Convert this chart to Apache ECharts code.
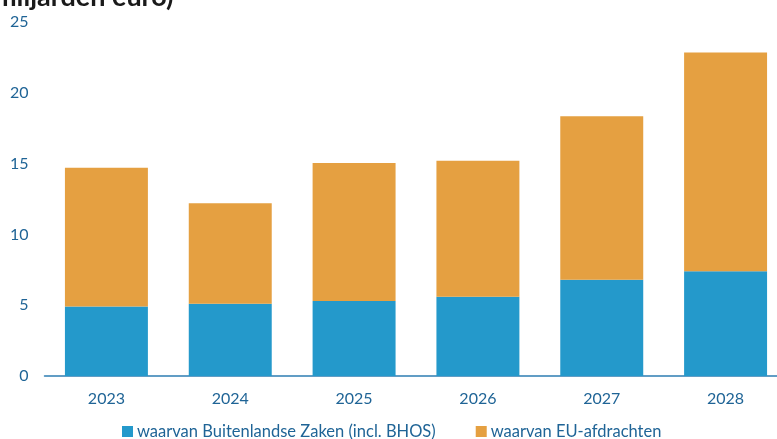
<!DOCTYPE html>
<html><head><meta charset="utf-8">
<script src="https://cdn.jsdelivr.net/npm/echarts@6/dist/echarts.min.js"></script>
<style>html,body{margin:0;padding:0;background:#fff}#c{width:777px;height:439px}</style>
</head><body><div id="c"></div>
<script>
const categories = ['2023','2024','2025','2026','2027','2028'];
const buza = [4.9, 5.1, 5.3, 5.6, 6.8, 7.4];
const eu = [9.8, 7.1, 9.75, 9.6, 11.55, 15.45];
const yTicks = [0, 5, 10, 15, 20, 25];
const seriesNames = ['waarvan Buitenlandse Zaken (incl. BHOS)', 'waarvan EU-afdrachten'];
const titleText = 'miljarden euro)';

const labelColor = '#1F6496';
const chart = echarts.init(document.getElementById('c'), null, {renderer: 'canvas'});
chart.setOption({
  animation: false,
  graphic: [{
    type: 'text', x: -6, y: -16,
    style: {text: titleText, font: 'bold 27px Lato', fill: '#1a1a1a'}
  }],
  grid: {left: 44.5, width: 743, top: 22, bottom: 63, outerBoundsMode: 'none', containLabel: false},
  legend: {
    bottom: -6, left: 117,
    itemWidth: 11, itemHeight: 11, itemGap: 40,
    icon: 'rect',
    textStyle: {fontFamily: 'Lato', fontSize: 16.5, color: labelColor, padding: [0,0,0,-1]},
    data: seriesNames
  },
  xAxis: {
    type: 'category', data: categories,
    axisLine: {lineStyle: {color: '#2E7DB3', width: 1.5}},
    axisTick: {show: false},
    axisLabel: {fontFamily: 'Lato', fontSize: 16, color: labelColor, margin: 15}
  },
  yAxis: {
    type: 'value', min: yTicks[0], max: yTicks[yTicks.length-1], interval: 5,
    axisLine: {show: false}, axisTick: {show: false}, splitLine: {show: false},
    axisLabel: {fontFamily: 'Lato', fontSize: 16, color: labelColor, margin: 16}
  },
  series: [
    {name: seriesNames[0], type: 'bar', stack: 't', data: buza, barWidth: '67%',
     itemStyle: {color: '#2499CB'}},
    {name: seriesNames[1], type: 'bar', stack: 't', data: eu, barWidth: '67%',
     itemStyle: {color: '#E5A041'}}
  ]
});
</script></body></html>
